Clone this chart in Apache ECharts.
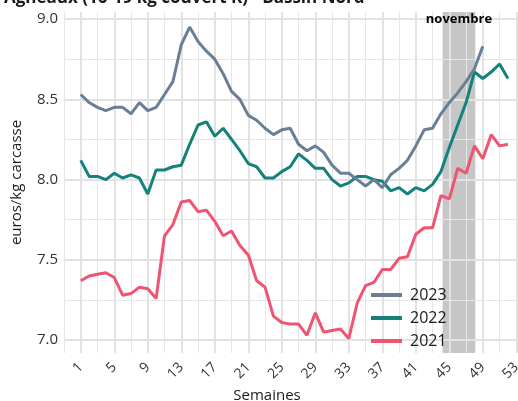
<!DOCTYPE html>
<html>
<head>
<meta charset="utf-8">
<script src="https://cdn.jsdelivr.net/npm/echarts@6/dist/echarts.min.js"></script>
<style>
  html, body { margin: 0; padding: 0; background: #fff; }
  #chart { width: 518px; height: 401px; }
</style>
</head>
<body>
<div id="chart"></div>
<script>
// prices in euros/kg carcasse, by week
const v2023 = [8.53, 8.48, 8.45, 8.43, 8.45, 8.45, 8.41, 8.48, 8.43, 8.45,
  8.53, 8.61, 8.84, 8.95, 8.86, 8.80, 8.75, 8.66, 8.55, 8.50,
  8.40, 8.37, 8.32, 8.28, 8.31, 8.32, 8.22, 8.18, 8.21, 8.17,
  8.09, 8.04, 8.04, 8.00, 7.96, 8.00, 7.95, 8.03, 8.07, 8.12,
  8.21, 8.31, 8.32, 8.41, 8.48, 8.54, 8.61, 8.69, 8.83];
const v2022 = [8.12, 8.02, 8.02, 8.00, 8.04, 8.01, 8.03, 8.01, 7.91, 8.06,
  8.06, 8.08, 8.09, 8.22, 8.34, 8.36, 8.27, 8.32, 8.25, 8.18,
  8.10, 8.08, 8.01, 8.01, 8.05, 8.08, 8.16, 8.12, 8.07, 8.07,
  8.00, 7.96, 7.98, 8.02, 8.02, 8.00, 7.99, 7.93, 7.95, 7.91,
  7.95, 7.93, 7.97, 8.05, 8.20, 8.34, 8.48, 8.67, 8.63, 8.67,
  8.72, 8.63];
const v2021 = [7.37, 7.40, 7.41, 7.42, 7.39, 7.28, 7.29, 7.33, 7.32, 7.26,
  7.65, 7.72, 7.86, 7.87, 7.80, 7.81, 7.74, 7.65, 7.68, 7.59,
  7.53, 7.37, 7.33, 7.15, 7.11, 7.10, 7.10, 7.03, 7.17, 7.05,
  7.06, 7.07, 7.01, 7.23, 7.34, 7.36, 7.44, 7.44, 7.51, 7.52,
  7.66, 7.70, 7.70, 7.90, 7.88, 8.07, 8.04, 8.21, 8.13, 8.28,
  8.21, 8.22];

const weekTicks = [1, 5, 9, 13, 17, 21, 25, 29, 33, 37, 41, 45, 49, 53];
const weekMinor = [-1, 3, 7, 11, 15, 19, 23, 27, 31, 35, 39, 43, 47, 51];
const priceTicks = [7.0, 7.5, 8.0, 8.5, 9.0];
const priceMinor = [7.25, 7.75, 8.25, 8.75];

// november band (weeks)
const novStart = 44.2;
const novEnd = 48.1;

const font = "Open Sans";

const toPoints = (arr) => arr.map((v, i) => [i + 1, v]);

const chart = echarts.init(document.getElementById("chart"));

const xBase = { type: "value", min: -1, max: 53.2, axisLine: { show: false } };
const yBase = { type: "value", min: 6.92, max: 9.044, axisLine: { show: false } };

const option = {
  animation: false,
  textStyle: { fontFamily: font },
  title: {
    text: "Agneaux (16-19 kg couvert R) - Bassin Nord",
    left: -1,
    top: -15,
    textStyle: { fontFamily: font, fontSize: 17, fontWeight: "bold", color: "#1a1a1a" },
  },
  grid: { left: 64, right: 0, top: 12, bottom: 48, outerBoundsMode: "none" },
  xAxis: [
    {
      ...xBase,
      name: "Semaines",
      nameLocation: "middle",
      nameGap: 34,
      nameTextStyle: { fontSize: 15, color: "#1a1a1a", padding: [0, 48, 0, 0] },
      axisTick: { show: true, length: 0, customValues: weekTicks },
      axisLabel: {
        customValues: weekTicks,
        rotate: 45,
        margin: 12,
        fontSize: 14,
        color: "#333",
      },
      splitLine: { show: true, lineStyle: { color: "#e2e2e2", width: 2 } },
    },
    {
      ...xBase,
      position: "bottom",
      axisTick: { show: true, length: 0, customValues: weekMinor },
      axisLabel: { show: false },
      splitLine: { show: true, lineStyle: { color: "#e6e6e6", width: 1 } },
    },
  ],
  yAxis: [
    {
      ...yBase,
      name: "euros/kg carcasse",
      nameLocation: "middle",
      nameGap: 40,
      nameTextStyle: { fontSize: 15, color: "#1a1a1a" },
      axisTick: { show: true, length: 0, customValues: priceTicks },
      axisLabel: {
        customValues: priceTicks,
        formatter: (v) => v.toFixed(1),
        margin: 6,
        fontSize: 15,
        color: "#333",
      },
      splitLine: { show: true, lineStyle: { color: "#e2e2e2", width: 2 } },
    },
    {
      ...yBase,
      position: "left",
      axisTick: { show: true, length: 0, customValues: priceMinor },
      axisLabel: { show: false },
      splitLine: { show: true, lineStyle: { color: "#e6e6e6", width: 1 } },
    },
  ],
  legend: {
    data: ["2023", "2022", "2021"],
    orient: "vertical",
    left: 366,
    top: 282,
    icon: "rect",
    itemWidth: 31,
    itemHeight: 4,
    itemGap: 7,
    textStyle: { fontSize: 16, color: "#1a1a1a", padding: [0, 0, 0, 3] },
  },
  series: [
    {
      // shaded band, kept under the grid lines
      name: "band",
      type: "line",
      data: [],
      z: -1,
      markArea: {
        z: -1,
        silent: true,
        itemStyle: { color: "#c6c6c6" },
        label: { show: false },
        data: [[{ xAxis: novStart }, { xAxis: novEnd }]],
      },
    },
    {
      // month label above everything
      name: "bandLabel",
      type: "line",
      data: [],
      markArea: {
        z: 5,
        silent: true,
        itemStyle: { color: "rgba(0,0,0,0)" },
        label: {
          show: true,
          position: "insideTop",
          distance: 1,
          color: "#000",
          fontSize: 13,
          fontWeight: "bold",
        },
        data: [[{ name: "novembre", xAxis: novStart }, { xAxis: novEnd }]],
      },
    },
    {
      name: "2021",
      type: "line",
      data: toPoints(v2021),
      showSymbol: false,
      lineStyle: { width: 3, color: "#ef5470" },
      itemStyle: { color: "#ef5470" },
    },
    {
      name: "2022",
      type: "line",
      data: toPoints(v2022),
      showSymbol: false,
      lineStyle: { width: 3, color: "#14827b" },
      itemStyle: { color: "#14827b" },
    },
    {
      name: "2023",
      type: "line",
      data: toPoints(v2023),
      showSymbol: false,
      lineStyle: { width: 3, color: "#6a7f94" },
      itemStyle: { color: "#6a7f94" },
    },
  ],
};

chart.setOption(option);
</script>
</body>
</html>
